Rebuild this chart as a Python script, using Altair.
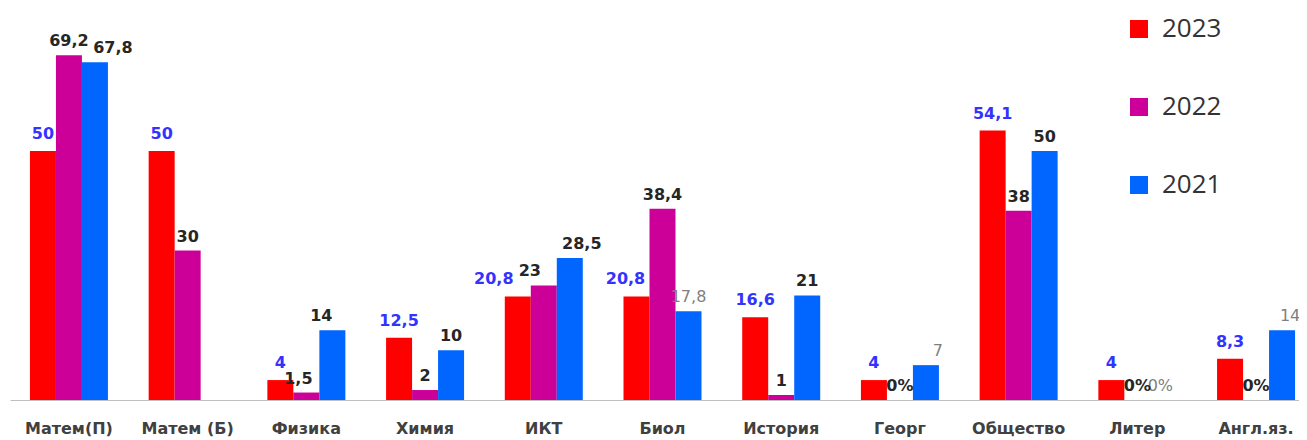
import altair as alt
import pandas as pd

categories = ["Матем(П)", "Матем (Б)", "Физика", "Химия", "ИКТ", "Биол",
              "История", "Георг", "Общество", "Литер", "Англ.яз."]
years = ["2023", "2022", "2021"]
v2023 = [50, 50, 4, 12.5, 20.8, 20.8, 16.6, 4, 54.1, 4, 8.3]
v2022 = [69.2, 30, 1.5, 2, 23, 38.4, 1, 0, 38, 0, 0]
v2021 = [67.8, None, 14, 10, 28.5, 17.8, 21, 7, 50, 0, 14]
colors = ["#ff0000", "#cc0099", "#0066ff"]
muted_2021 = ["Биол", "Георг", "Литер", "Англ.яз."]
# horizontal nudges of a few value labels, as placed in the original
label_nudge = {("Матем(П)", "2021"): 18, ("Физика", "2022"): -8,
               ("Физика", "2021"): -11, ("ИКТ", "2023"): -24,
               ("ИКТ", "2022"): -14, ("ИКТ", "2021"): 12,
               ("Биол", "2023"): -11, ("Георг", "2021"): 12,
               ("Англ.яз.", "2021"): 8, ("Литер", "2021"): -3}

rows = []
for yr, vals in zip(years, [v2023, v2022, v2021]):
    for c, v in zip(categories, vals):
        if v is None:
            continue
        label = "0%" if v == 0 else f"{v:g}".replace(".", ",")
        rows.append({"cat": c, "year": yr, "value": v, "label": label,
                     "muted": bool(yr == "2021" and c in muted_2021),
                     "nudge": label_nudge.get((c, yr), 0)})
df = pd.DataFrame(rows)

x = alt.X("cat:N", sort=categories,
          scale=alt.Scale(range=[0, 1305], paddingInner=0.343, paddingOuter=0.168),
          axis=alt.Axis(title=None, labelAngle=0, ticks=False, tickSize=0,
                        domainColor="#bfbfbf", domainWidth=1,
                        labelFont="DejaVu Sans", labelFontWeight="bold",
                        labelFontSize=16, labelColor="#404040",
                        labelPadding=33, labelBaseline="alphabetic"))
xo = alt.XOffset("year:N", sort=years,
                 scale=alt.Scale(domain=years, paddingInner=0, paddingOuter=0))
y = alt.Y("value:Q", scale=alt.Scale(domain=[0, 78.3], nice=False, zero=True), axis=None)

base = alt.Chart(df)

bars = base.mark_bar().encode(
    x=x, xOffset=xo, y=y,
    color=alt.Color("year:N", sort=years,
                    scale=alt.Scale(domain=years, range=colors),
                    legend=alt.Legend(title=None, orient="none", legendX=1116, legendY=6,
                                      padding=0, symbolType="square", symbolSize=324,
                                      symbolStrokeWidth=0, symbolOpacity=1,
                                      labelFont="Open Sans", labelFontSize=26,
                                      labelColor="#333333", labelOffset=10,
                                      rowPadding=52)),
)

layers = [bars]
for nd in sorted(df["nudge"].unique()):
    sub = base.transform_filter(alt.datum.nudge == int(nd))
    layers.append(sub.transform_filter(alt.datum.year == "2023").mark_text(
        dy=-12, dx=int(nd), baseline="alphabetic", font="DejaVu Sans", fontSize=16,
        fontWeight="bold", color="#3333ff"
    ).encode(x=x, xOffset=xo, y=y, text="label:N"))
    layers.append(sub.transform_filter(
        (alt.datum.year != "2023") & (alt.datum.muted == False)
    ).mark_text(
        dy=-9, dx=int(nd), baseline="alphabetic", font="DejaVu Sans", fontSize=16,
        fontWeight="bold", color="#262626"
    ).encode(x=x, xOffset=xo, y=y, text="label:N"))
    layers.append(sub.transform_filter(alt.datum.muted == True).mark_text(
        dy=-9, dx=int(nd), baseline="alphabetic", font="DejaVu Sans", fontSize=16,
        color="#7f7f7f"
    ).encode(x=x, xOffset=xo, y=y, text="label:N"))

chart = alt.layer(*layers).properties(
    width=1289, height=390,
    background="white",
    autosize=alt.AutoSizeParams(type="none"),
    padding={"left": 2, "top": 2, "right": 0, "bottom": 38},
).configure_view(strokeWidth=0)

chart.save("out.html", embed_options={"renderer": "svg", "actions": False})
